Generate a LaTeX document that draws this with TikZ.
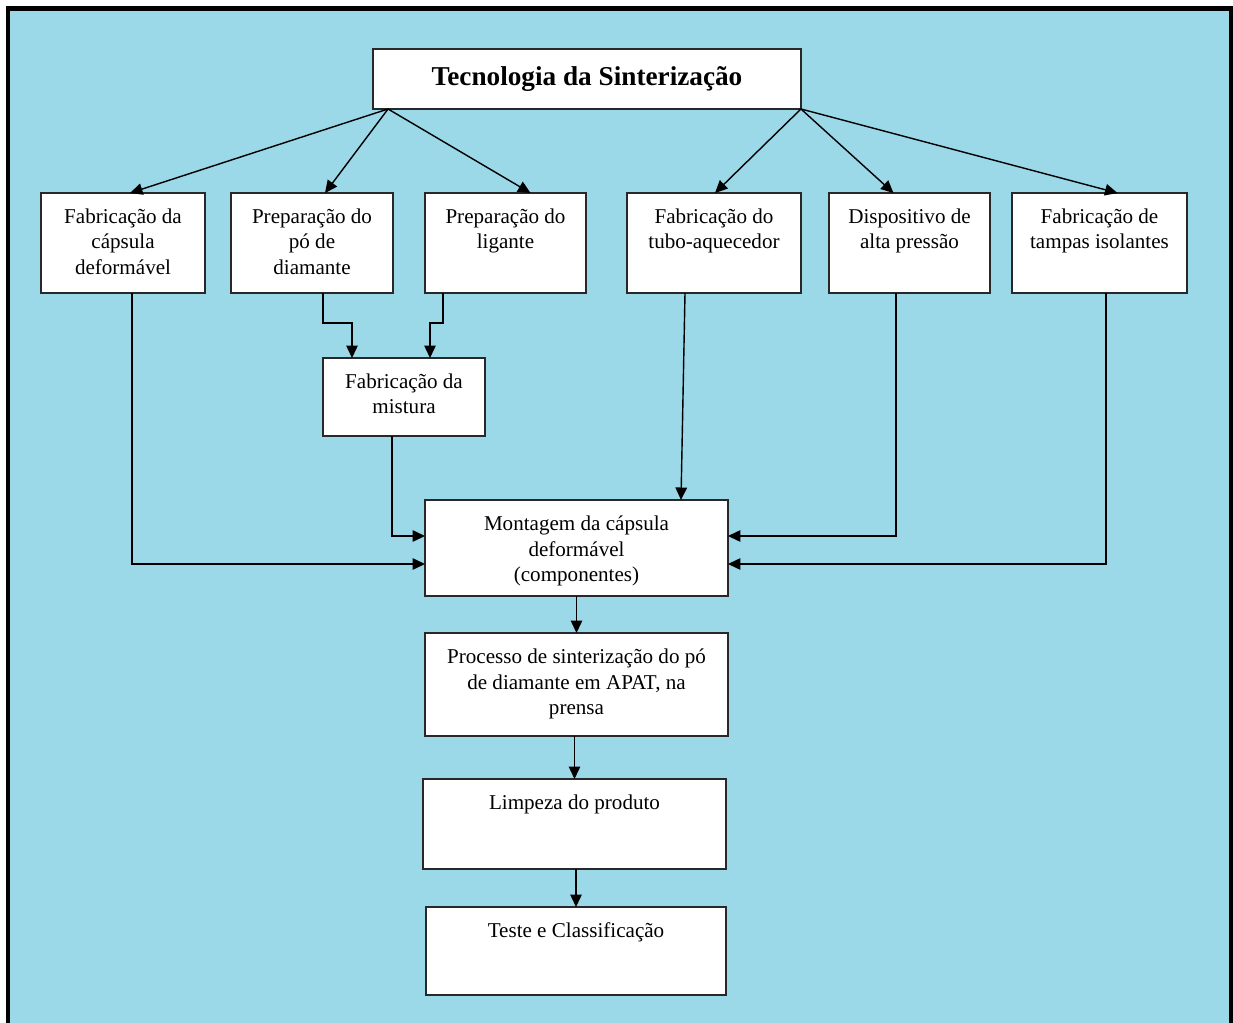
\documentclass[tikz,border=0pt]{standalone}
\usepackage{fontspec}
\setmainfont{Liberation Serif}
\usetikzlibrary{arrows.meta,calc}
\definecolor{fundo}{RGB}{155,216,232}
\definecolor{borda}{RGB}{40,40,40}

\begin{document}
\begin{tikzpicture}[
  x=0.02cm, y=-0.02cm,
  box/.style={draw=borda, line width=0.8pt, fill=white, inner sep=0pt, outer sep=0pt},
  etapa/.style={box, minimum height=2cm},
  larga/.style={box, minimum width=6.06cm},
  lbl/.style={anchor=north, align=center, yshift=-5.5pt, font=\fontsize{12}{14.5}\selectfont},
  txt/.style={label={[lbl]north:{#1}}},
  arr/.style={-{Triangle[length=2.5mm,width=2.3mm]}, line width=0.8pt}
]
\useasboundingbox (0,0) rectangle (1233,1023);
\fill[fundo] (8,8) rectangle (1233,1023);
\draw[line width=2.3pt] (8,1030) -- (8,8.5) -- (1231.5,8.5) -- (1231.5,1030);

% topo
\node[box, minimum width=8.56cm, minimum height=1.2cm,
      font=\fontsize{15.5}{18}\selectfont\bfseries] (top) at (587,79) {Tecnologia da Sinterização};

% primeira linha de etapas
\node[etapa, minimum width=3.28cm, txt={Fabricação da\\cápsula\\deformável}] (caps) at (123,243) {};
\node[etapa, minimum width=3.24cm, txt={Preparação do\\pó de\\diamante}] (po) at (312,243) {};
\node[etapa, minimum width=3.22cm, txt={Preparação do\\ligante}] (lig) at (505.5,243) {};
\node[etapa, minimum width=3.48cm, txt={Fabricação do\\tubo-aquecedor}] (tubo) at (714,243) {};
\node[etapa, minimum width=3.22cm, txt={Dispositivo de\\alta pressão}] (disp) at (909.5,243) {};
\node[etapa, minimum width=3.5cm, txt={Fabricação de\\tampas isolantes}] (tampa) at (1099.5,243) {};

\node[box, minimum width=3.24cm, minimum height=1.56cm, txt={Fabricação da\\mistura}] (mist) at (404,397) {};

% coluna central
\node[larga, minimum height=1.92cm, txt={Montagem da cápsula\\deformável\\(componentes)}] (mont) at (576.5,548) {};
\node[larga, minimum height=2.06cm, txt={Processo de sinterização do pó\\de diamante em APAT, na\\prensa}] (sint) at (576.5,684.5) {};
\node[larga, minimum height=1.8cm, txt={Limpeza do produto}] (limp) at (574.5,824) {};
\node[larga, minimum width=6cm, minimum height=1.76cm, txt={Teste e Classificação}] (teste) at (576,951) {};

\coordinate (ql) at ($(top.south west)+(15,0)$);
\coordinate (qr) at (top.south east);

\draw[arr] (ql) -- ($(caps.north)+(7,0)$);
\draw[arr] (ql) -- ($(po.north)+(13,0)$);
\draw[arr] (ql) -- ($(lig.north)+(25,0)$);
\draw[arr] (qr) -- ($(tubo.north)+(1,0)$);
\draw[arr] (qr) -- ($(disp.north)+(-16,0)$);
\draw[arr] (qr) -- ($(tampa.north)+(18,0)$);

\draw[arr] ($(po.south)+(11,0)$) -- ++(0,30) -| ($(mist.north)+(-52,0)$);
\draw[arr] ($(lig.south)+(-62.5,0)$) -- ++(0,30) -| ($(mist.north)+(26,0)$);

\draw[arr] ($(caps.south)+(9,0)$) |- ($(mont.west)+(0,16)$);
\draw[arr] ($(mist.south)+(-12,0)$) |- ($(mont.west)+(0,-12)$);
\draw[arr] ($(tubo.south)+(-29,0)$) -- ($(mont.north)+(104.5,0)$);
\draw[arr] ($(disp.south)+(-13.5,0)$) |- ($(mont.east)+(0,-12)$);
\draw[arr] ($(tampa.south)+(6.5,0)$) |- ($(mont.east)+(0,16)$);

\draw[arr] (mont.south) -- (sint.north);
\draw[arr] (sint.south -| limp.north) -- (limp.north);
\draw[arr] (limp.south -| teste.north) -- (teste.north);
\end{tikzpicture}
\end{document}
